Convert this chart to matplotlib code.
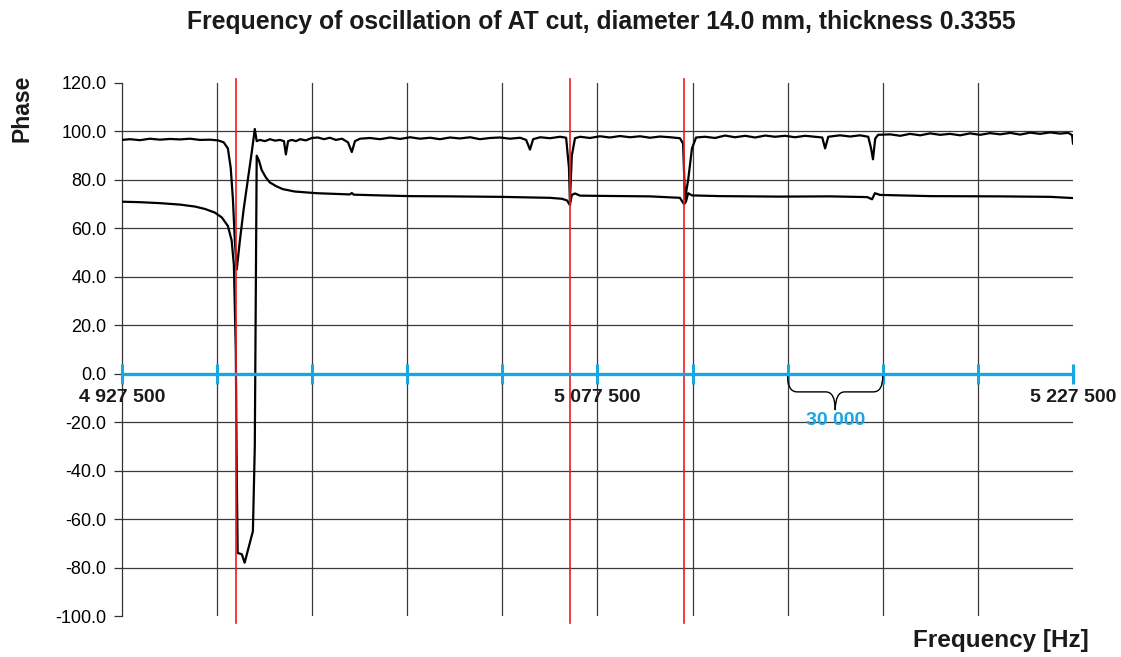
"""
Phase vs frequency sweep of an AT-cut quartz blank (scanned chart re-drawn).
"""
import numpy as np
import matplotlib
matplotlib.use('Agg')
import matplotlib.pyplot as plt
from matplotlib.path import Path
from matplotlib.patches import PathPatch

plt.rcParams['font.family'] = ['Liberation Sans', 'DejaVu Sans']

# frequency in kHz, phase in degrees
upper_f = [4927.5, 4930.0, 4933.2, 4936.3, 4939.5, 4942.6, 4945.8, 4949.0, 4952.1, 4955.3,
           4957.8, 4959.6, 4960.9, 4961.8, 4962.5, 4963.1, 4963.7, 4964.7, 4965.9, 4967.2,
           4968.5, 4969.4, 4970.0, 4971.0, 4972.6, 4974.2, 4975.8, 4977.3, 4978.6, 4979.2,
           4979.9, 4981.1, 4982.4, 4983.7, 4985.5, 4987.4, 4989.3, 4991.2, 4993.1, 4995.0,
           4996.9, 4998.8, 5000.0, 5001.0, 5002.6, 5005.7, 5008.9, 5012.1, 5015.2, 5018.4,
           5021.5, 5024.7, 5027.8, 5031.0, 5034.1, 5037.3, 5040.4, 5043.6, 5046.8, 5049.9,
           5053.1, 5055.0, 5056.2, 5057.2, 5059.4, 5062.5, 5065.7, 5067.6, 5068.5, 5068.8,
           5069.4, 5070.4, 5072.0, 5075.1, 5078.3, 5081.4, 5084.6, 5087.8, 5090.9, 5094.1,
           5097.2, 5100.4, 5103.5, 5104.5, 5105.1, 5106.1, 5107.3, 5108.6, 5111.4, 5114.6,
           5117.7, 5120.9, 5124.1, 5127.2, 5130.4, 5133.5, 5136.7, 5139.8, 5143.0, 5146.1,
           5148.4, 5149.3, 5150.3, 5154.0, 5157.2, 5160.3, 5162.9, 5163.8, 5164.4, 5165.1,
           5166.0, 5169.8, 5173.0, 5176.1, 5179.3, 5182.4, 5185.6, 5188.7, 5191.9, 5195.0,
           5198.2, 5201.3, 5204.5, 5207.7, 5210.8, 5214.0, 5217.1, 5220.3, 5223.4, 5226.0,
           5227.2, 5227.5]
upper_p = [96.5, 96.8, 96.4, 97.0, 96.6, 96.9, 96.7, 97.0, 96.5, 96.6,
           96.3, 95.5, 93.0, 85.0, 72.0, 55.0, 43.0, 55.0, 68.0, 80.0,
           92.0, 101.0, 96.0, 96.5, 96.0, 96.8, 96.2, 96.5, 96.0, 90.5,
           96.0, 96.5, 96.0, 96.8, 96.3, 97.3, 97.5, 96.8, 97.4, 96.5,
           97.0, 95.5, 91.5, 96.0, 97.0, 97.3, 96.8, 97.5, 96.9, 97.6,
           97.0, 97.4, 96.8, 97.5, 97.1, 97.6, 96.8, 97.3, 97.5, 97.0,
           97.4, 96.5, 92.5, 96.8, 97.6, 97.2, 97.8, 97.4, 85.0, 71.0,
           90.0, 97.2, 97.8, 97.3, 98.0, 97.5, 98.1, 97.6, 98.0, 97.4,
           97.9, 97.6, 97.2, 95.0, 72.0, 80.0, 93.0, 97.5, 97.8, 97.3,
           98.3, 97.6, 98.2, 97.5, 98.3, 97.8, 98.2, 97.6, 98.2, 97.8,
           97.5, 93.0, 97.8, 98.4, 97.9, 98.4, 97.8, 93.0, 88.5, 97.0,
           98.6, 98.8, 98.2, 99.0, 98.4, 99.2, 98.6, 99.0, 98.4, 99.2,
           98.6, 99.3, 98.8, 99.4, 98.7, 99.5, 99.0, 99.6, 99.1, 99.4,
           98.5, 95.0]

lower_f = [4927.5, 4933.2, 4939.5, 4945.8, 4950.5, 4953.7, 4956.8, 4959.0, 4960.9, 4962.1,
           4962.8, 4963.4, 4963.7, 4964.0, 4965.3, 4966.2, 4967.2, 4967.8, 4968.8, 4969.4,
           4969.7, 4970.0, 4970.7, 4971.6, 4972.9, 4974.1, 4976.0, 4978.2, 4982.0, 4989.0,
           4999.4, 5000.0, 5000.6, 5008.8, 5018.3, 5030.9, 5046.7, 5062.5, 5066.3, 5067.9,
           5068.8, 5069.4, 5070.4, 5072.0, 5078.3, 5094.0, 5103.5, 5104.8, 5105.4, 5106.1,
           5107.3, 5116.2, 5135.1, 5150.9, 5162.6, 5164.1, 5165.0, 5166.6, 5182.4, 5204.5,
           5220.3, 5227.5]
lower_p = [71.0, 70.8, 70.4, 69.8, 69.0, 68.0, 66.5, 64.5, 61.0, 55.0,
           45.0, 10.0, -40.0, -74.0, -74.5, -78.0, -73.0, -70.0, -65.0, -30.0,
           30.0, 90.0, 88.0, 84.0, 81.0, 79.0, 77.5, 76.2, 75.2, 74.5,
           74.0, 74.6, 73.9, 73.6, 73.3, 73.2, 73.0, 72.6, 72.2, 71.5,
           69.6, 73.8, 74.4, 73.5, 73.4, 73.2, 72.6, 70.0, 71.0, 74.5,
           73.6, 73.3, 73.1, 73.2, 72.9, 72.0, 74.5, 73.8, 73.3, 73.2,
           73.0, 72.5]

resonances = [4963.5, 5068.8, 5104.9]
freq_grid = [4927.5 + 30 * i for i in range(11)]
freq_labels = [4927.5, 5077.5, 5227.5]
phase_ticks = [120, 100, 80, 60, 40, 20, 0, -20, -40, -60, -80, -100]

blue = '#17a8e3'

fig = plt.figure(figsize=(11.21, 6.57), dpi=100)
ax = fig.add_axes([0.1088, 0.0624, 0.8484, 0.8113])

ax.set_xlim(freq_grid[0], freq_grid[-1])
ax.set_ylim(-100, 120)

# grid
for v in phase_ticks[1:-1]:
    ax.axhline(v, color='#3a3a3a', lw=0.9, zorder=1)
for f in freq_grid[1:-1]:
    ax.axvline(f, color='#3a3a3a', lw=0.9, zorder=1)

ax.plot(upper_f, upper_p, color='black', lw=1.6, zorder=3)
ax.plot(lower_f, lower_p, color='black', lw=1.6, zorder=3)

for f in resonances:
    ax.axvline(f, ymin=-0.013, ymax=1.008, color='#ee1c1c', lw=1.2,
               zorder=4, clip_on=False)

# blue frequency axis at zero phase
ax.plot([freq_grid[0], freq_grid[-1]], [0, 0], color=blue, lw=2.4, zorder=5,
        clip_on=False)
ax.plot(freq_grid, [0] * len(freq_grid), ls='none', marker='|', ms=15, mew=2.2,
        color=blue, zorder=5, clip_on=False)
for f in freq_labels:
    ax.text(f, -10, f'{int(round(f * 1000)):,}'.replace(',', ' '), ha='center',
            va='center', fontsize=14, fontweight='bold', color='#1a1a1a',
            clip_on=False, zorder=6)

# brace marking one grid step
x0, x1 = freq_grid[7], freq_grid[8]
xm = (x0 + x1) / 2
q = 3.0
ytop, ymid, ybot = -1.0, -7.5, -15.0
verts = [(x0, ytop), (x0, ymid), (x0 + q, ymid), (xm - q, ymid), (xm, ymid), (xm, ybot),
         (xm, ymid), (xm + q, ymid), (x1 - q, ymid), (x1, ymid), (x1, ytop)]
codes = [Path.MOVETO, Path.CURVE3, Path.CURVE3, Path.LINETO, Path.CURVE3, Path.CURVE3,
         Path.CURVE3, Path.CURVE3, Path.LINETO, Path.CURVE3, Path.CURVE3]
ax.add_patch(PathPatch(Path(verts, codes), fill=False, color='black', lw=1.0, zorder=5))
ax.text(xm, -19.4, f'{int((x1 - x0) * 1000):,}'.replace(',', ' '), ha='center',
        va='center', fontsize=14, fontweight='bold', color=blue, zorder=6)

ax.set_yticks(phase_ticks)
ax.set_yticklabels([f'{v:.1f}' for v in phase_ticks])
ax.set_xticks([])
ax.tick_params(axis='y', labelsize=13, length=6, width=0.9, color='#333333', pad=5)
for side in ['top', 'right', 'bottom']:
    ax.spines[side].set_visible(False)
ax.spines['left'].set_color('#333333')
ax.spines['left'].set_linewidth(0.9)

fig.text(601 / 1121, 1 - 22 / 657, 'Frequency of oscillation of AT cut, diameter 14.0 mm, thickness 0.3355',
         ha='center', va='center', fontsize=17.8, fontweight='bold', color='#1a1a1a')
fig.text(22 / 1121, 1 - 108 / 657, 'Phase', rotation=90, ha='center', va='center',
         fontsize=16.5, fontweight='bold', color='#1a1a1a')
fig.text(1001 / 1121, 1 - 641 / 657, 'Frequency [Hz]', ha='center', va='center',
         fontsize=17.5, fontweight='bold', color='#1a1a1a')

plt.savefig('out.png', dpi=100)
print("Saved out.png")
